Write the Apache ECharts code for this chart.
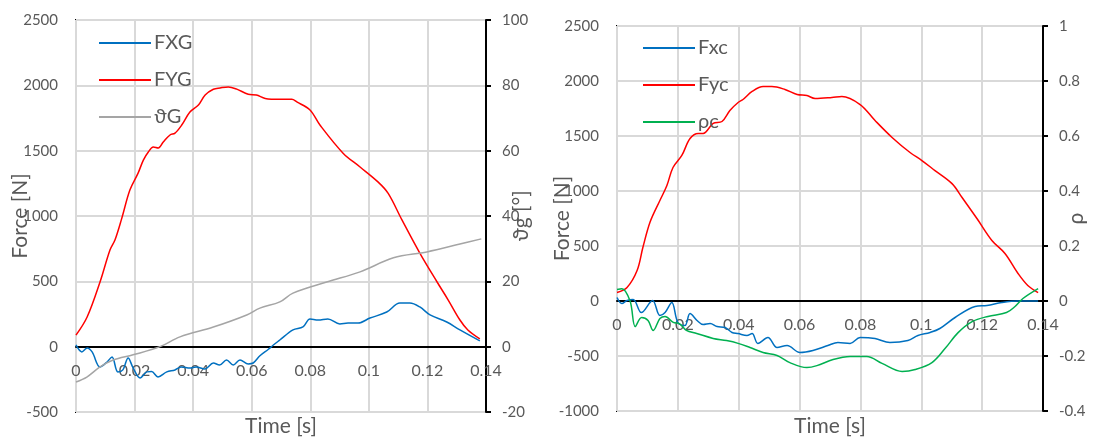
<!DOCTYPE html>
<html>
<head>
<meta charset="utf-8">
<script src="https://cdn.jsdelivr.net/npm/echarts@6/dist/echarts.min.js"></script>
<style>html,body{margin:0;padding:0;background:#fff;}#c{width:1095px;height:441px;}</style>
</head>
<body>
<div id="c"></div>
<script>
// ---- Data (time [s], value) ----
const xTicks = [0, 0.02, 0.04, 0.06, 0.08, 0.1, 0.12, 0.14];
const leftNames = ['FXG', 'FYG', 'ϑG'];
const rightNames = ['Fxc', 'Fyc', 'ρc'];

const FXG = [[0,13],[0.002,-40],[0.0038,-10],[0.0055,-40],[0.0082,-155],[0.0106,-117],[0.0123,-79],[0.0143,-193],[0.016,-178],[0.0178,-86],[0.0195,-163],[0.0219,-240],[0.0242,-193],[0.0258,-190],[0.028,-232],[0.031,-193],[0.0338,-178],[0.036,-155],[0.0389,-163],[0.041,-155],[0.044,-170],[0.0469,-125],[0.049,-140],[0.0514,-102],[0.0537,-140],[0.056,-102],[0.0588,-132],[0.0605,-125],[0.0628,-70],[0.0657,-20],[0.0674,13],[0.0696,51],[0.0741,128],[0.0775,151],[0.0799,212],[0.0827,204],[0.086,212],[0.0901,174],[0.0929,181],[0.0963,181],[0.1004,219],[0.1061,265],[0.1106,334],[0.114,334],[0.1174,304],[0.1209,243],[0.1266,189],[0.1311,128],[0.1379,44]];
const FYG = [[0,88],[0.0038,227],[0.0082,495],[0.0116,740],[0.0133,816],[0.0156,980],[0.0184,1199],[0.0212,1328],[0.023,1428],[0.0247,1490],[0.0264,1528],[0.0281,1520],[0.0298,1566],[0.0321,1620],[0.0338,1634],[0.0361,1696],[0.0389,1796],[0.0418,1849],[0.0441,1926],[0.0469,1970],[0.0492,1980],[0.052,1988],[0.0549,1971],[0.0588,1932],[0.0616,1926],[0.0646,1900],[0.0696,1893],[0.0737,1893],[0.0754,1873],[0.0799,1811],[0.0833,1696],[0.0912,1481],[0.097,1375],[0.1031,1261],[0.1066,1173],[0.1113,970],[0.1174,716],[0.1233,495],[0.1271,357],[0.1311,204],[0.1338,128],[0.1379,60]];
const THETA_G = [[0,-10.8],[0.0037,-9.3],[0.0082,-6.2],[0.0127,-4.1],[0.0195,-2.5],[0.0287,0],[0.0355,3],[0.0469,6],[0.0583,9.7],[0.0628,11.8],[0.0696,13.7],[0.0741,16.4],[0.0856,19.8],[0.097,22.9],[0.1084,27.2],[0.1198,29],[0.1311,31.4],[0.1384,33]];

const FXC = [[0,32],[0.0016,-23],[0.0033,5],[0.0053,14],[0.008,-105],[0.0117,5],[0.0141,-132],[0.0158,-105],[0.018,-14],[0.02,-196],[0.0223,-223],[0.024,-114],[0.0263,-177],[0.0283,-214],[0.0306,-205],[0.0329,-232],[0.0355,-241],[0.0378,-286],[0.0398,-296],[0.0427,-314],[0.0444,-296],[0.0463,-386],[0.0496,-332],[0.0526,-423],[0.0559,-405],[0.0601,-468],[0.0644,-450],[0.0693,-405],[0.0726,-377],[0.0766,-386],[0.0799,-332],[0.0848,-341],[0.0897,-377],[0.0956,-359],[0.0989,-314],[0.1029,-286],[0.1061,-250],[0.1111,-150],[0.1177,-50],[0.1216,-41],[0.1265,-14],[0.1318,0],[0.1384,0]];
const FYC = [[0,77],[0.0033,123],[0.0066,277],[0.0085,486],[0.0109,720],[0.0141,914],[0.0164,1050],[0.0184,1214],[0.0213,1323],[0.024,1477],[0.0267,1523],[0.0283,1523],[0.0316,1614],[0.0345,1632],[0.0371,1732],[0.0398,1805],[0.0414,1832],[0.0444,1905],[0.048,1950],[0.0509,1950],[0.0552,1923],[0.0592,1877],[0.0624,1868],[0.0651,1841],[0.0706,1850],[0.0739,1859],[0.0799,1786],[0.0848,1641],[0.0904,1487],[0.0963,1350],[0.1002,1277],[0.1045,1186],[0.1101,1067],[0.1134,941],[0.1184,745],[0.1232,550],[0.1275,432],[0.1318,250],[0.135,141],[0.1384,77]];
const RHO_C = [[0,0.042],[0.0016,0.045],[0.0043,0],[0.006,-0.093],[0.0081,-0.06],[0.0102,-0.071],[0.0119,-0.107],[0.0141,-0.064],[0.0158,-0.056],[0.0185,-0.078],[0.0206,-0.083],[0.0228,-0.107],[0.0262,-0.118],[0.0316,-0.136],[0.036,-0.144],[0.0398,-0.154],[0.0437,-0.169],[0.048,-0.187],[0.0526,-0.198],[0.0568,-0.224],[0.0624,-0.242],[0.0657,-0.235],[0.071,-0.213],[0.0766,-0.202],[0.0821,-0.202],[0.0871,-0.227],[0.0937,-0.256],[0.098,-0.249],[0.1035,-0.224],[0.1078,-0.173],[0.1121,-0.115],[0.1167,-0.075],[0.1219,-0.056],[0.128,-0.042],[0.1308,-0.02],[0.1334,0.009],[0.1384,0.045]];

// ---- Styles ----
const FONT = 'Lato, "Open Sans", sans-serif';
const LABEL = '#595959';
const GRIDC = '#d9d9d9';
const BLUE = '#0070C0', RED = '#FF0000', GRAY = '#A5A5A5', GREEN = '#00B050';
const plain = v => String(Math.round(v * 1000) / 1000);

const G0 = { left: 76, top: 20, width: 410, height: 392, ymin: -500, ymax: 2500 };
const G1 = { left: 617, top: 26, width: 426, height: 385, ymin: -1000, ymax: 2500 };
// distance (px) from grid bottom to the y = 0 line, so the time axis sits on zero
const zeroOffset = g => g.height * (0 - g.ymin) / (g.ymax - g.ymin);

function xAxis(gridIndex, g, nameTop) {
  const off = zeroOffset(g);
  return {
    type: 'value', gridIndex, min: 0, max: 0.14, interval: 0.02, position: 'bottom',
    offset: -off,
    name: 'Time [s]', nameLocation: 'middle', nameGap: nameTop - (g.top + g.height - off), nameMoveOverlap: false,
    nameTextStyle: { color: LABEL, fontSize: 21, fontFamily: FONT },
    axisLine: { show: true, onZero: false, lineStyle: { color: '#000', width: 2 } },
    axisTick: { show: false },
    axisLabel: { color: LABEL, fontSize: 16, fontFamily: FONT, margin: 16, formatter: plain },
    splitLine: { show: true, lineStyle: { color: GRIDC, width: 2 } }
  };
}
function yLeft(gridIndex, g, gap) {
  return {
    type: 'value', gridIndex, position: 'left', min: g.ymin, max: g.ymax, interval: 500,
    name: 'Force [N]', nameLocation: 'middle', nameGap: gap, nameMoveOverlap: false,
    nameTextStyle: { color: LABEL, fontSize: 21, fontFamily: FONT },
    axisLine: { show: false }, axisTick: { show: false },
    axisLabel: { color: LABEL, fontSize: 15, fontFamily: FONT, margin: 18, formatter: plain },
    splitLine: { show: true, lineStyle: { color: GRIDC, width: 2 } }
  };
}
function yRight(gridIndex, min, max, interval, name, gap) {
  return {
    type: 'value', gridIndex, position: 'right', min, max, interval,
    name, nameLocation: 'middle', nameGap: gap, nameMoveOverlap: false,
    nameTextStyle: { color: LABEL, fontSize: 21, fontFamily: FONT },
    axisLine: { show: true, lineStyle: { color: '#000', width: 2 } },
    axisTick: { show: true, length: 5, lineStyle: { color: '#000', width: 2 } },
    axisLabel: { color: LABEL, fontSize: 15, fontFamily: FONT, margin: 16, formatter: plain },
    splitLine: { show: false }
  };
}
function line(name, data, xi, yi, color) {
  return { name, type: 'line', xAxisIndex: xi, yAxisIndex: yi, data, symbol: 'none', showSymbol: false,
    smooth: 0.35, lineStyle: { color, width: 1.5 }, itemStyle: { color } };
}
function legend(left, top, names) {
  return { left, top, orient: 'vertical', data: names, icon: 'rect', itemWidth: 52, itemHeight: 2, itemGap: 17,
    textStyle: { color: LABEL, fontSize: 20, fontFamily: FONT, lineHeight: 20, padding: [0, 0, 0, -2] } };
}
function grid(g) {
  return { left: g.left, top: g.top, width: g.width, height: g.height, containLabel: false, outerBoundsMode: 'none',
    show: true, borderColor: '#000', borderWidth: 2, backgroundColor: 'transparent' };
}

const option = {
  animation: false,
  grid: [grid(G0), grid(G1)],
  legend: [legend(94, 28, leftNames), legend(638, 33, rightNames)],
  xAxis: [xAxis(0, G0, 416), xAxis(1, G1, 416)],
  yAxis: [
    yLeft(0, G0, 45),
    yRight(0, -20, 100, 20, 'ϑg [°]', 25),
    yLeft(1, G1, 44),
    yRight(1, -0.4, 1, 0.2, 'ρ', 23)
  ],
  series: [
    line(leftNames[0], FXG, 0, 0, BLUE),
    line(leftNames[1], FYG, 0, 0, RED),
    line(leftNames[2], THETA_G, 0, 1, GRAY),
    line(rightNames[0], FXC, 1, 2, BLUE),
    line(rightNames[1], FYC, 1, 2, RED),
    line(rightNames[2], RHO_C, 1, 3, GREEN)
  ]
};
echarts.init(document.getElementById('c'), null, { renderer: 'canvas' }).setOption(option);
</script>
</body>
</html>
